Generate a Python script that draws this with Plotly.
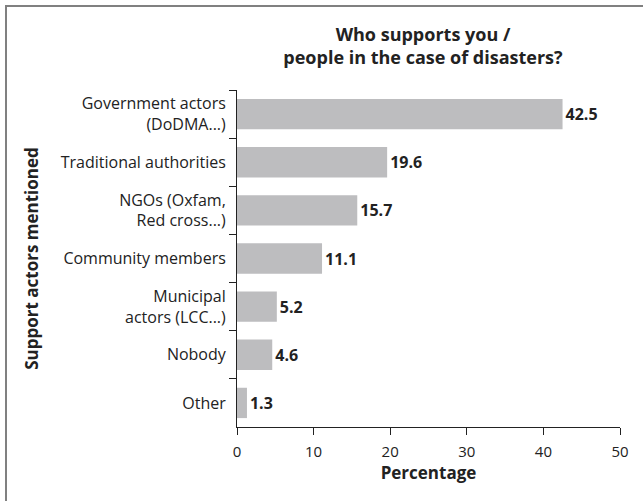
import plotly.graph_objects as go

categories = ["Government actors<br>(DoDMA...)", "Traditional authorities", "NGOs (Oxfam,<br>Red cross...)",
              "Community members", "Municipal<br>actors (LCC...)", "Nobody", "Other"]
values = [42.5, 19.6, 15.7, 11.1, 5.2, 4.6, 1.3]
labels = ["42.5", "19.6", "15.7", "11.1", "5.2", "4.6", "1.3"]

W, H = 643, 501
L, R, T, B = 237, 620, 90, 427
FONT = "Open Sans, sans-serif"

fig = go.Figure(go.Bar(
    x=values, y=categories, orientation="h",
    marker=dict(color="#BDBDBF", line=dict(width=0)),
    width=0.63,
    text=labels, textposition="outside",
    textfont=dict(family=FONT, size=16, color="#222222", weight="bold"),
    cliponaxis=False,
))

def px2x(p):
    return (p - L) / (R - L)

def px2y(p):
    return (B - p) / (B - T)

fig.update_layout(
    width=W, height=H,
    margin=dict(l=L, r=W - R, t=T, b=H - B, autoexpand=False),
    paper_bgcolor="white", plot_bgcolor="white",
    showlegend=False,
    font=dict(family=FONT, size=15, color="#222222"),
    title=dict(text="<b>Who supports you /<br>people in the case of disasters?</b>",
               x=423 / W, xanchor="center",
               y=1 - 41 / H, yanchor="middle",
               font=dict(size=18, family=FONT, color="#222222")),
    xaxis=dict(range=[0, 50], dtick=10, showgrid=False, zeroline=False, automargin=False,
               showline=True, linecolor="#222222", linewidth=1,
               ticks="outside", ticklen=7, tickcolor="#222222",
               tickfont=dict(size=15), ticklabelstandoff=4,
               title=dict(text="<b>Percentage</b>", font=dict(size=17), standoff=4)),
    yaxis=dict(autorange="reversed", showgrid=False, zeroline=False, automargin=False,
               showline=True, linecolor="#222222", linewidth=1,
               ticks="outside", tickson="boundaries", ticklen=7, tickcolor="#222222",
               tickfont=dict(size=16), ticklabelstandoff=7,
               title=dict(text="<b>Support actors mentioned</b>", font=dict(size=17), standoff=17)),
    shapes=[dict(type="rect", xref="paper", yref="paper",
                 x0=px2x(6), x1=px2x(700), y0=px2y(560), y1=px2y(6),
                 line=dict(color="#808080", width=2), fillcolor="rgba(0,0,0,0)")],
)

fig.write_html("out.html", config={"displayModeBar": False},
               post_script="document.body.style.margin='0';document.body.style.overflow='hidden';")
